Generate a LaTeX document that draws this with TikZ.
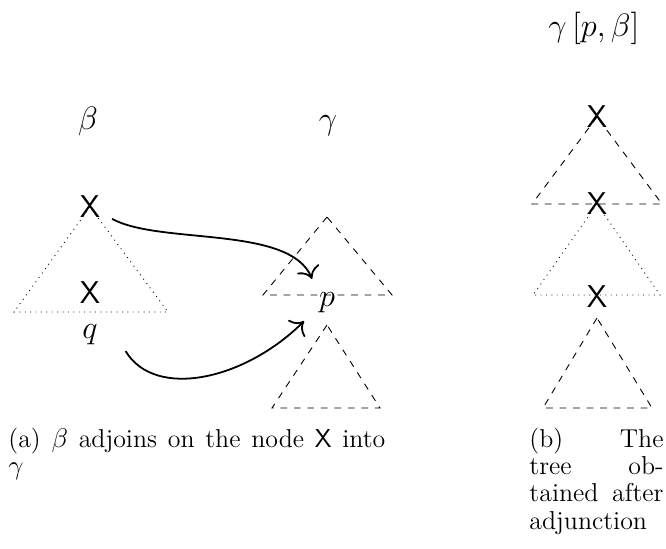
\documentclass[tikz,border=0pt]{standalone}
\usetikzlibrary{arrows.meta}
\begin{document}
\begin{tikzpicture}[x=0.4444pt,y=-0.4444pt,
  lab/.style={font=\fontsize{14}{16}\selectfont, inner sep=2pt},
  xnode/.style={font=\sffamily\fontsize{14}{16}\selectfont, inner sep=2pt},
  dtri/.style={dashed},
  otri/.style={dotted},
  arr/.style={-{To[scale=1.5]}, thick},
  captext/.style={font=\fontsize{11.5}{12.2}\selectfont, align=justify, inner sep=0pt, anchor=base west}]
\useasboundingbox (0,0) rectangle (666,548);
% labels
\node[lab,anchor=base] (lb) at (88,129) {$\beta$};
\node[lab,anchor=base] (lg) at (328,129) {$\gamma$};
\node[lab,anchor=base] (lr) at (594,37) {$\gamma\left[p,\beta\right]$};
% left tree beta
\node[xnode] (xa) at (90,207) {X};
\node[xnode] (xb) at (90,293) {X};
\node[lab] (q) at (90,335) {$q$};
\draw[otri] (xa.center) -- (14,312) -- (168,312) -- cycle;
% middle tree gamma
\node[lab] (p) at (327,303) {$p$};
\draw[dtri] (327,217) -- (263,295) -- (392,295) -- cycle;
\draw[dtri] (327,325) -- (272,408) -- (380,408) -- cycle;
% right tree
\node[xnode] (xc) at (597,117) {X};
\node[xnode] (xd) at (597,204) {X};
\node[xnode] (xe) at (597,297) {X};
\draw[dtri] (xc.center) -- (532,204) -- (662,204) -- cycle;
\draw[otri] (xd.center) -- (533,295) -- (660,295) -- cycle;
\draw[dtri] (597,318) -- (543,408) -- (652,408) -- cycle;
% arrows
\draw[arr] ([shift={(7,-4)}]xa.south east) .. controls (160,245) and (290,225) .. ([shift={(-2,-9)}]p.north west);
\draw[arr] ([shift={(23,1)}]q.south east) .. controls (155,400) and (245,380) .. ([shift={(-10,3)}]p.south west);
% captions
\node[captext, text width=167.5pt] (ca) at (8,447) {(a) $\beta$ adjoins on the node \textsf{X} into\linebreak $\gamma$};
\node[captext, text width=59.6pt] (cb) at (529,447) {(b) The\linebreak tree ob-\linebreak tained after\linebreak adjunction};
\end{tikzpicture}
\end{document}
